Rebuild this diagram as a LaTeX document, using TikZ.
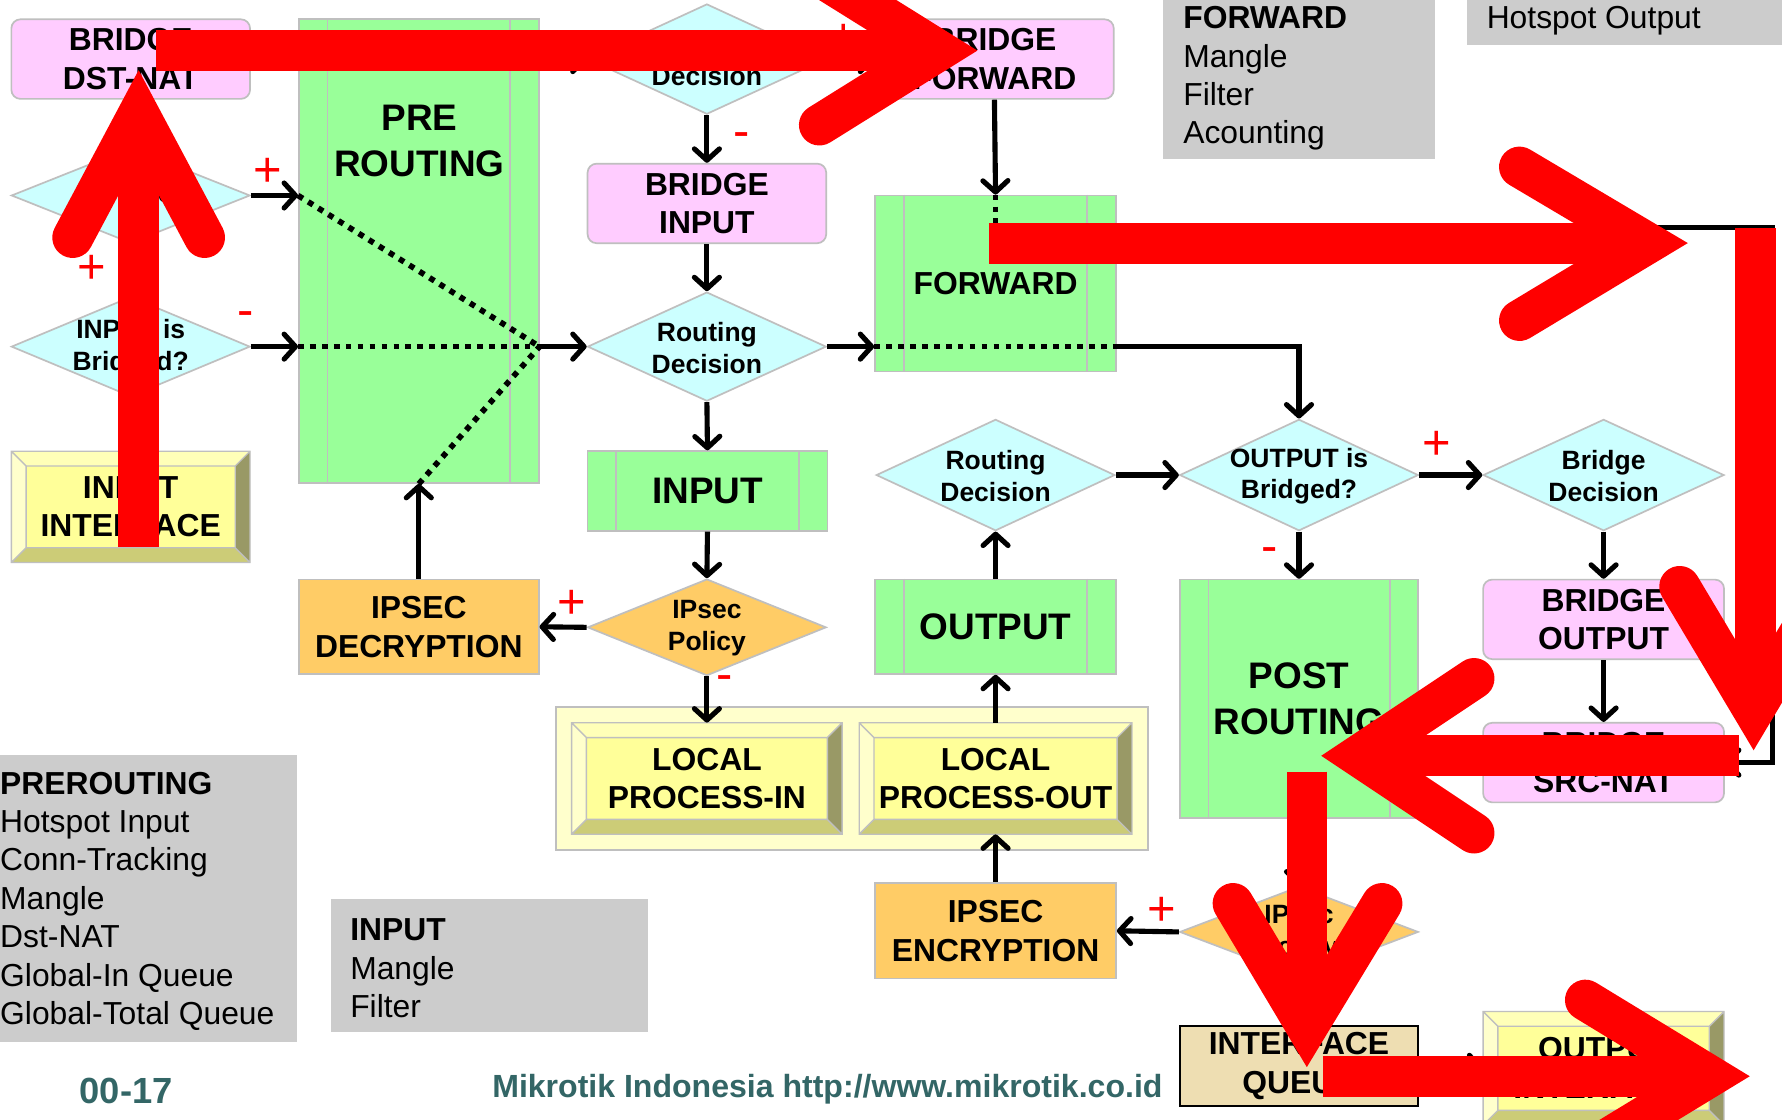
\documentclass[tikz,border=0pt]{standalone}
\usepackage{fontspec}
\setmainfont{Liberation Sans}
\usetikzlibrary{arrows.meta,shapes.geometric}

\definecolor{grn}{HTML}{99FF99}
\definecolor{pnk}{HTML}{FFCCFF}
\definecolor{cyn}{HTML}{CCFFFF}
\definecolor{org}{HTML}{FFCC66}
\definecolor{bdr}{HTML}{BFBFBF}
\definecolor{notegray}{HTML}{CCCCCC}
\definecolor{footteal}{HTML}{336666}
\definecolor{qtan}{HTML}{EEDEB2}
\definecolor{ylface}{HTML}{FFFF99}
\definecolor{ylpale}{HTML}{FFFFCC}
\definecolor{bvtopc}{HTML}{FFFFB8}
\definecolor{bvrightc}{HTML}{999966}
\definecolor{bvbotc}{HTML}{CCCC77}
\definecolor{markred}{HTML}{FF0000}

\newcommand\boxfont{\fontsize{28}{34}\selectfont\bfseries}
\newcommand\bigboxfont{\fontsize{32.5}{40}\selectfont\bfseries}
\newcommand\diafont{\fontsize{23.3}{28}\selectfont\bfseries}
\newcommand\notefont{\fontsize{28}{33.8}\selectfont}
\newcommand\signfont{\fontsize{43}{43}\selectfont}

\tikzset{
  box/.style={draw=bdr, line width=1.5pt, inner sep=0pt, align=center, font=\boxfont},
  greenbox/.style={box, fill=grn},
  pinkbox/.style={box, fill=pnk, rounded corners=8pt},
  orangebox/.style={box, fill=org},
  dia/.style={diamond, draw=bdr, line width=1.5pt, inner sep=0pt, fill=cyn},
  odia/.style={dia, fill=org},
  diatext/.style={inner sep=0pt, align=center, font=\diafont},
  bigtext/.style={inner sep=0pt, align=center, font=\bigboxfont},
  bvtext/.style={inner sep=0pt, align=center, font=\boxfont},
  notetext/.style={inner sep=0pt, align=left, font=\notefont, anchor=west},
  foot/.style={inner sep=0pt, text=footteal, font=\bfseries},
  sign/.style={inner sep=0pt, text=markred, font=\signfont},
  conn/.style={line width=4.5pt, -{Straight Barb[length=10pt,width=22pt,round]}},
  dots/.style={line width=5pt, dash pattern=on 5pt off 5.5pt},
  inner/.style={draw=bdr, line width=1.5pt},
  redshaft/.style={draw=markred, line width=36pt},
  redhead/.style={draw=markred, line width=36pt, line cap=round, line join=miter, miter limit=20},
}

% green box with the two inner vertical rules
\newcommand\rules[1]{%
  \draw[inner] ([xshift=26pt]#1.north west) -- ([xshift=26pt]#1.south west);
  \draw[inner] ([xshift=-26pt]#1.north east) -- ([xshift=-26pt]#1.south east);}

% bevelled yellow button: name, x1, y1, x2, y2, text
\newcommand\bevelbox[6]{%
  \fill[ylpale] (#2,#3) -- (#2+13,#3+13) -- (#2+13,#5-13) -- (#2,#5) -- cycle;
  \fill[bvtopc] (#2,#3) -- (#4,#3) -- (#4-13,#3+13) -- (#2+13,#3+13) -- cycle;
  \fill[bvrightc] (#4,#3) -- (#4,#5) -- (#4-13,#5-13) -- (#4-13,#3+13) -- cycle;
  \fill[bvbotc] (#2,#5) -- (#4,#5) -- (#4-13,#5-13) -- (#2+13,#5-13) -- cycle;
  \fill[ylface] (#2+13,#3+13) rectangle (#4-13,#5-13);
  \draw[bdr, line width=1.2pt] (#2,#3) rectangle (#4,#5)
     (#2+13,#3+13) rectangle (#4-13,#5-13)
     (#2,#3) -- (#2+13,#3+13) (#4,#3) -- (#4-13,#3+13)
     (#2,#5) -- (#2+13,#5-13) (#4,#5) -- (#4-13,#5-13);
  \node[bvtext, minimum width=#4-#2, minimum height=#5-#3] (#1) at ({(#2+#4)/2},{(#3+#5)/2}) {#6};}

\begin{document}
\begin{tikzpicture}[x=1pt,y=-1pt]
\useasboundingbox (0,0) rectangle (1568,985);
\clip (0,0) rectangle (1568,985);
\fill[white] (0,0) rectangle (1568,985);

% ---------- grey chain notes ----------
\fill[notegray] (1023,-5) rectangle (1263,140);
\node[notetext] (nfwd) at (1041,69) {\textbf{FORWARD}\\Mangle\\Filter\\Acounting};
\fill[notegray] (1291,-5) rectangle (1575,40);
\node[notetext] (nhot) at (1308,18) {Hotspot Output};
\fill[notegray] (-5,664) rectangle (261,917);
\node[notetext] (npre) at (0,793) {\textbf{PREROUTING}\\Hotspot Input\\Conn-Tracking\\Mangle\\Dst-NAT\\Global-In Queue\\Global-Total Queue};
\fill[notegray] (291,791) rectangle (570,908);
\node[notetext] (ninp) at (308,852) {\textbf{INPUT}\\Mangle\\Filter};

% ---------- input side ----------
\node[pinkbox, minimum width=210, minimum height=70] (bdnat) at (115,52) {BRIDGE\\DST-NAT};
\node[dia, minimum width=210, minimum height=84] (dia1) at (115,172) {};
\node[diatext] (dia1t) at (115,172) {Bridge};
\node[dia, minimum width=210, minimum height=88] (dia2) at (115,305) {};
\node[diatext] (dia2t) at (115,306) {INPUT is\\Bridged?};
\bevelbox{inif}{10}{397}{220}{495}{INPUT\\INTERFACE}

\node[greenbox, minimum width=211, minimum height=408] (pre) at (368.5,221) {};
\rules{pre}
\node[bigtext] (pret) at (369,124) {PRE\\ROUTING};
\node[orangebox, minimum width=211, minimum height=83] (ipdec) at (368.5,551.5) {IPSEC\\DECRYPTION};

% ---------- middle column ----------
\node[dia, minimum width=210, minimum height=97] (bd1) at (622,52) {};
\node[diatext] (bd1t) at (622,53) {Bridge\\Decision};
\node[pinkbox, minimum width=210, minimum height=70] (binp) at (622,179) {BRIDGE\\INPUT};
\node[dia, minimum width=210, minimum height=96] (rd1) at (622,305) {};
\node[diatext] (rd1t) at (622,306) {Routing\\Decision};
\node[greenbox, minimum width=211, minimum height=70, font=\bigboxfont] (inp) at (622.5,432) {INPUT};
\rules{inp}
\node[odia, minimum width=210, minimum height=85] (ips1) at (622,552) {};
\node[diatext] (ips1t) at (622,553) {IPsec\\Policy};

\fill[ylpale] (489,622) rectangle (1010,748);
\draw[bdr, line width=1.5pt] (489,622) rectangle (1010,748);
\bevelbox{lpin}{503}{636}{741}{734}{LOCAL\\PROCESS-IN}
\bevelbox{lpout}{756}{636}{996}{734}{LOCAL\\PROCESS-OUT}

% ---------- forward / output column ----------
\node[pinkbox, minimum width=210, minimum height=70] (bfwd) at (875,52) {BRIDGE\\FORWARD};
\node[greenbox, minimum width=212, minimum height=155] (fwd) at (876,249.5) {FORWARD};
\rules{fwd}
\node[dia, minimum width=210, minimum height=98] (rd2) at (876,418) {};
\node[diatext] (rd2t) at (876,419) {Routing\\Decision};
\node[greenbox, minimum width=212, minimum height=83, font=\bigboxfont] (out) at (876,551.5) {OUTPUT};
\rules{out}
\node[orangebox, minimum width=212, minimum height=84] (ipenc) at (876,819) {IPSEC\\ENCRYPTION};

% ---------- right columns ----------
\node[dia, minimum width=210, minimum height=98] (oib) at (1143,418) {};
\node[diatext] (oibt) at (1143,419) {OUTPUT is\\Bridged?};
\node[greenbox, minimum width=210, minimum height=210, font=\bigboxfont] (post) at (1143,615) {POST\\ROUTING};
\rules{post}
\node[odia, minimum width=210, minimum height=80] (ips2) at (1143,820) {};
\node[diatext] (ips2t) at (1143,821) {IPsec\\Policy};
\node[box, fill=qtan, draw=black, minimum width=210, minimum height=70] (iq) at (1143,938) {INTERFACE\\QUEUE};

\node[dia, minimum width=212, minimum height=98] (bd2) at (1411,418) {};
\node[diatext] (bd2t) at (1411,419) {Bridge\\Decision};
\node[pinkbox, minimum width=212, minimum height=70] (bout) at (1411,545) {BRIDGE\\OUTPUT};
\node[pinkbox, minimum width=212, minimum height=70] (bsnat) at (1411,671) {BRIDGE\\SRC-NAT};
\bevelbox{oif}{1305}{890}{1517}{990}{OUTPUT\\INTERFACE}

% ---------- connectors ----------
\coordinate (prj) at (pre.east |- rd1.west);
\draw[dots] (dia1.east -| pre.west) -- (prj);
\draw[dots] (dia2.east -| pre.west) -- (prj);
\draw[dots] (ipdec.north |- pre.south) -- (prj);
\draw[conn] (prj) -- (rd1.west);
\draw[conn] (dia1.east) -- (dia1.east -| pre.west);
\draw[conn] (dia2.east) -- (dia2.east -| pre.west);
\draw[conn] ([xshift=7pt]inif.north) -- ([xshift=7pt]dia2.south);
\draw[conn] ([xshift=7pt]dia2.north) -- ([xshift=7pt]dia1.south);
\draw[conn] ([xshift=7pt]dia1.north) -- ([xshift=7pt]bdnat.south);
\draw[conn] (bdnat.east) -- (bd1.west);
\draw[conn] (bd1.east) -- (bfwd.west);
\draw[conn] (bd1.south) -- (binp.north);
\draw[conn] (binp.south) -- (rd1.north);
\draw[conn] (rd1.south) -- (inp.north);
\draw[conn] (inp.south) -- (ips1.north);
\draw[conn] (ips1.west) -- (ipdec.east);
\draw[conn] (ips1.south) -- (lpin.north);
\draw[conn] (ipdec.north) -- (ipdec.north |- pre.south);

\draw[conn] (bfwd.south) -- (fwd.north);
\coordinate (fk) at (876,200);
\coordinate (fke) at (fwd.east |- fk);
\coordinate (rc) at (1560,200);
\draw[dots] (fwd.north) -- (fk) -- (fke);
\draw[conn] (fke) -- (rc) |- (bsnat.east);
\draw[conn] (rd1.east) -- (rd1.east -| fwd.west);
\draw[dots] (rd1.east -| fwd.west) -- (rd1.east -| fwd.east);
\draw[conn] (rd1.east -| fwd.east) -| (oib.north);

\draw[conn] (lpout.north) -- (out.south);
\draw[conn] (out.north) -- (rd2.south);
\draw[conn] (rd2.east) -- (oib.west);
\draw[conn] (oib.east) -- (bd2.west);
\draw[conn] (oib.south) -- (post.north);
\draw[conn] (bd2.south) -- (bout.north);
\draw[conn] (bout.south) -- (bsnat.north);
\draw[conn] (ipenc.north) -- (lpout.south);
\draw[conn] (ips2.west) -- (ipenc.east);
\draw[conn] (post.south) -- (ips2.north);
\draw[conn] (ips2.south) -- (iq.north);
\draw[conn] (iq.east) -- (oif.west);

% ---------- decision signs ----------
\node[sign] (s1) at (236,152) {+};
\node[sign] (s2) at (81,237) {+};
\node[sign] (s3) at (216,281) {-};
\node[sign] (s4) at (742,34) {+};
\node[sign] (s5) at (653,123) {-};
\node[sign] (s6) at (503,532) {+};
\node[sign] (s7) at (638,601) {-};
\node[sign] (s8) at (1264,392) {+};
\node[sign] (s9) at (1117,488) {-};
\node[sign] (s10) at (1022,802) {+};

% ---------- footer ----------
\node[foot, font=\fontsize{32}{32}\selectfont\bfseries] (page) at (111,960) {00-17};
\node[foot, font=\fontsize{28.2}{30}\selectfont\bfseries] (url) at (728,958) {Mikrotik Indonesia http://www.mikrotik.co.id};

% ---------- red flow markers ----------
\draw[redshaft] (122,481) -- (122,100);
\draw[redhead] (64,209) -- (122,100) -- (180,209);

\draw[redshaft] (137,44.5) -- (826,44.5);
\draw[redhead] (721,110) -- (826,44.5) -- (721,-21);

\draw[redshaft] (870,214) -- (1450,214);
\draw[redhead] (1337,282) -- (1450,214) -- (1337,147);

\draw[redshaft] (1544.5,201) -- (1544.5,625);
\draw[redhead] (1478,516) -- (1543,625) -- (1608,516);

\draw[redshaft] (1530,665) -- (1195,665);
\draw[redhead] (1297,597) -- (1195,665) -- (1297,733);

\draw[redshaft] (1150,679) -- (1150,904);
\draw[redhead] (1085,795) -- (1150,904) -- (1216,795);

\draw[redshaft] (1164,947) -- (1505,947);
\draw[redhead] (1395,880) -- (1505,947) -- (1395,1014);
\end{tikzpicture}
\end{document}
